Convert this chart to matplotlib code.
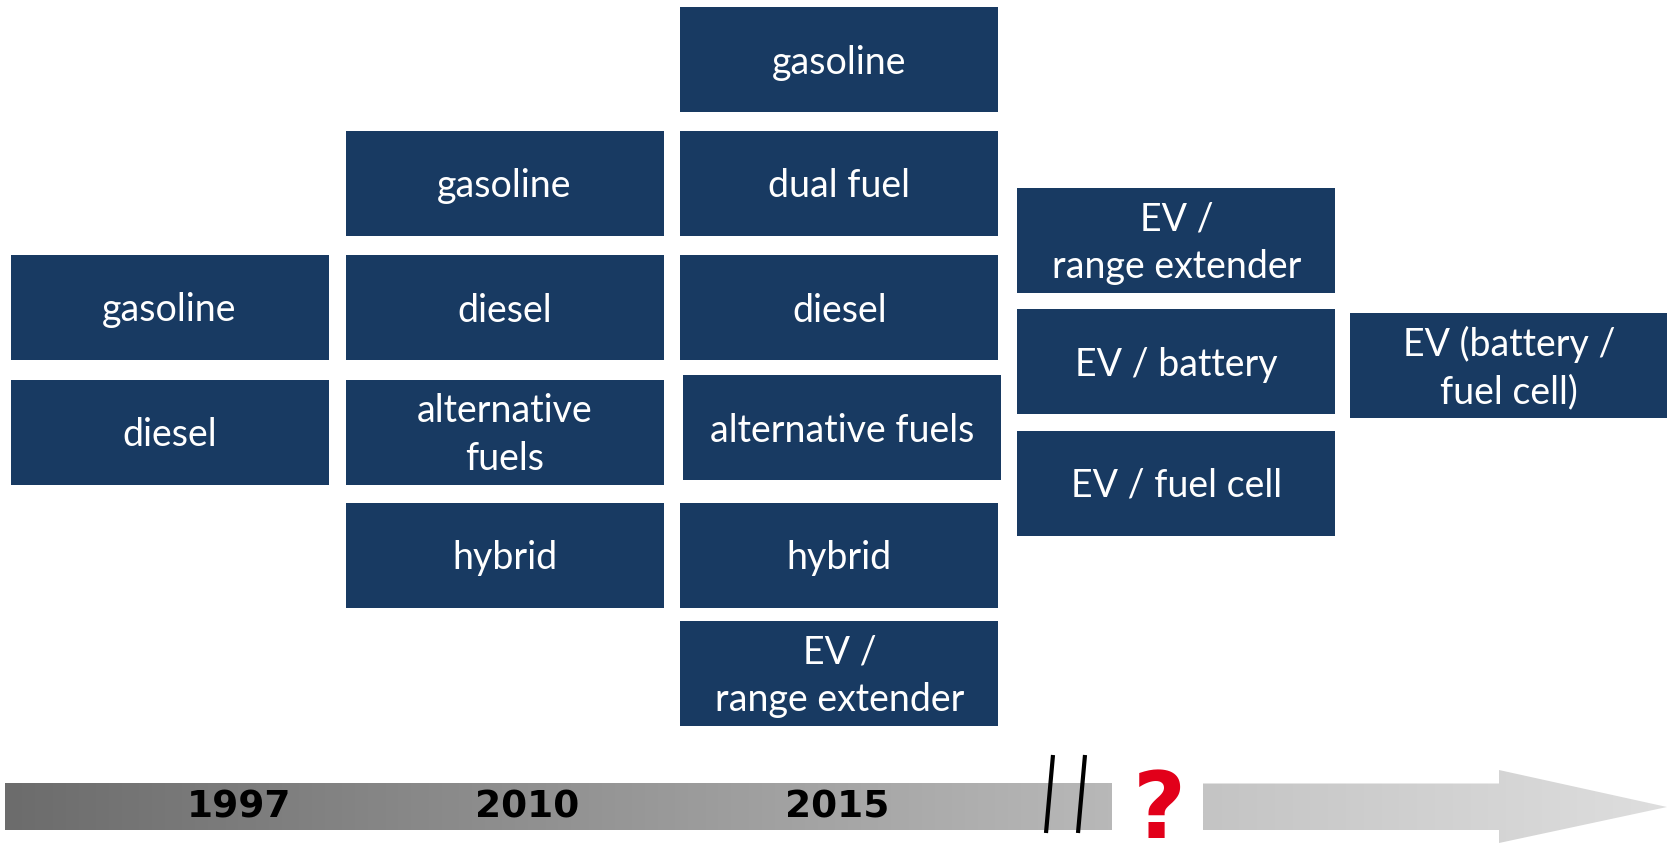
import numpy as np
import matplotlib
matplotlib.use('Agg')
import matplotlib.pyplot as plt
from matplotlib.patches import Rectangle, Polygon

# labels of each column (left to right), top to bottom
col_1997 = ['gasoline', 'diesel']
col_2010 = ['gasoline', 'diesel', 'alternative\nfuels', 'hybrid']
col_2015 = ['gasoline', 'dual fuel', 'diesel', 'alternative fuels', 'hybrid',
            'EV /\nrange extender']
col_next = ['EV /\nrange extender', 'EV / battery', 'EV / fuel cell']
col_future = ['EV (battery /\nfuel cell)']
years = ['1997', '2010', '2015']

navy = '#183a62'
W, H = 1667, 843

fig = plt.figure(figsize=(W / 100, H / 100), dpi=100)
ax = fig.add_axes([0, 0, 1, 1])
ax.set_xlim(0, W)
ax.set_ylim(H, 0)
ax.axis('off')

box_w, box_h = 318, 105
# layout: (labels, left x, top y of each box)
columns = [
    (col_1997, 10.6, [255, 379.5]),
    (col_2010, 345.5, [130.8, 255, 379.5, 502.8]),
    (col_2015, 680.4, [7.4, 130.8, 255, 375.3, 502.8, 620.8]),
    (col_next, 1017.4, [188, 309.4, 430.5]),
    (col_future, 1350.2, [312.6]),
]

for labels, x0, tops in columns:
    for lab, y in zip(labels, tops):
        xx = x0 + 3 if lab == 'alternative fuels' else x0
        ax.add_patch(Rectangle((xx, y), box_w, box_h, facecolor=navy, edgecolor='none'))
        ax.text(xx + box_w / 2, y + box_h / 2 + 3, lab, color='white', fontsize=27,
                family=['Lato', 'DejaVu Sans'], ha='center', va='center',
                linespacing=1.38)

# timeline bar with gradient
grad = np.linspace(0, 1, 256).reshape(1, -1)
cm1 = matplotlib.colors.LinearSegmentedColormap.from_list('g1', ['#6c6c6c', '#b8b8b8'])
ax.imshow(grad, cmap=cm1, extent=(5, 1112, 830, 783.5), aspect='auto', zorder=1)

cm2 = matplotlib.colors.LinearSegmentedColormap.from_list('g2', ['#c4c4c4', '#dedede'])
arrow = Polygon([(1203, 783.5), (1499, 783.5), (1499, 770), (1667, 807),
                 (1499, 843), (1499, 830), (1203, 830)], closed=True,
                facecolor='none', edgecolor='none')
ax.add_patch(arrow)
im = ax.imshow(grad, cmap=cm2, extent=(1203, 1667, 843, 770), aspect='auto', zorder=1)
im.set_clip_path(arrow)

year_x = [239, 527, 837]
for x, yr in zip(year_x, years):
    ax.text(x, 808, yr, fontsize=27, fontweight='bold', color='black',
            family=['DejaVu Sans'], ha='center', va='center', zorder=3)

# break marks
for xt in (1053, 1085):
    ax.plot([xt, xt - 7], [755, 833], color='black', lw=3, zorder=3, solid_capstyle='butt')

ax.text(1159, 838, '?', color='#e2001a', fontsize=66, fontweight='bold',
        family=['DejaVu Sans'], ha='center', va='baseline', zorder=3)

fig.savefig('out.png', dpi=100)
